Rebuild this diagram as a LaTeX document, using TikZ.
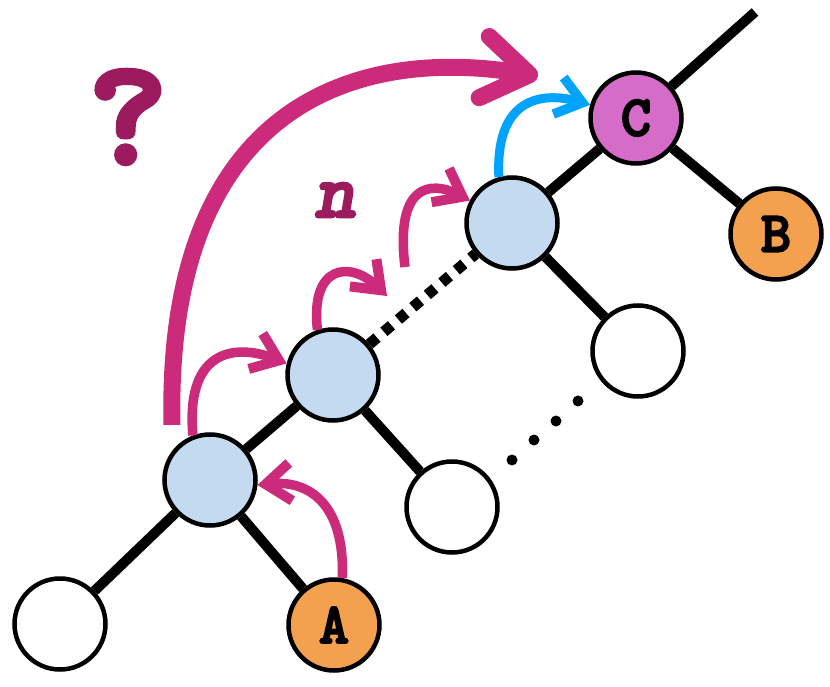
\documentclass[tikz,border=0pt]{standalone}
\usepackage{fontspec}
\usetikzlibrary{arrows.meta}
\newfontfamily\courb[FakeBold=3]{lmmonolt10-bold.otf}
\newfontfamily\courbi[FakeBold=3]{lmmonolt10-boldoblique.otf}
\newfontfamily\qfont[FakeBold=4]{lmmonolt10-bold.otf}
\definecolor{mag}{RGB}{204,42,123}
\definecolor{dmag}{RGB}{156,26,94}
\definecolor{skyb}{RGB}{0,163,255}
\definecolor{lblue}{RGB}{195,218,241}
\definecolor{orng}{RGB}{244,161,79}
\definecolor{cpink}{RGB}{213,108,199}
\begin{document}
\begin{tikzpicture}[x=1pt,y=-1pt,
  tnode/.style={circle, draw=black, line width=4.5pt, minimum size=91pt, inner sep=0pt, font=\fontsize{58}{58}\courb},
  edge/.style={line width=10pt, black},
  dotedge/.style={line width=11pt, black, dash pattern=on 10pt off 9pt},
  bigarr/.style={line width=17pt, mag, -{Straight Barb[length=46pt,width=62pt,line width=17pt, round]}},
  smarr/.style={line width=9.5pt, mag, -{Straight Barb[length=25pt,width=38pt,line width=10pt]}, line join=miter},
  bluarr/.style={line width=9pt, skyb, -{Straight Barb[length=25pt,width=38pt,line width=9.5pt]}, line join=miter}]
\useasboundingbox (0,0) rectangle (830,687);
\node[tnode, fill=white] (w1) at (60,624) {};
\node[tnode, fill=orng] (A) at (334,625) {A};
\node[tnode, fill=lblue] (b1) at (210,480) {};
\node[tnode, fill=white] (w2) at (452,507) {};
\node[tnode, fill=lblue] (b2) at (333,375) {};
\node[tnode, fill=white] (w3) at (638,351) {};
\node[tnode, fill=lblue] (b3) at (512,223) {};
\node[tnode, fill=cpink] (C) at (636,118) {C};
\node[tnode, fill=orng] (B) at (776,234) {B};
\coordinate (top) at (755,12);
\draw[edge] (b1) -- (w1);
\draw[edge] (b1) -- (A);
\draw[edge] (b1) -- (b2);
\draw[edge] (b2) -- (w2);
\draw[dotedge] (b2) -- (b3);
\draw[edge] (b3) -- (w3);
\draw[edge] (b3) -- (C);
\draw[edge] (C) -- (B);
\draw[edge] (C) -- (top);
\foreach \p in {(512,460),(534,440),(556,421),(578,401)} \fill[black] \p circle (5.5pt);
\coordinate (qs) at (172,425);
\coordinate (qe) at (538,76);
\draw[bigarr] (qs) .. controls (165,110) and (350,45) .. (qe);
\draw[bluarr] (b3.106) .. controls (495,95) and (545,92) .. (C.164);
\draw[smarr] (b1.111) .. controls (185,345) and (240,345) .. (b2.166);
\coordinate (m2) at (387,296);
\draw[smarr] (b2.109) .. controls (310,265) and (350,260) .. (m2);
\coordinate (m3) at (405,267);
\draw[smarr] (m3) .. controls (395,185) and (430,180) .. (b3.152);
\draw[smarr] (A.80) .. controls (345,505) and (310,480) .. (b1.-6);
\node[text=dmag, font=\fontsize{150}{150}\qfont] (q) at (128,117) {?};
\node[text=dmag, font=\fontsize{78}{78}\courbi] (n) at (335,200) {n};
\end{tikzpicture}
\end{document}
